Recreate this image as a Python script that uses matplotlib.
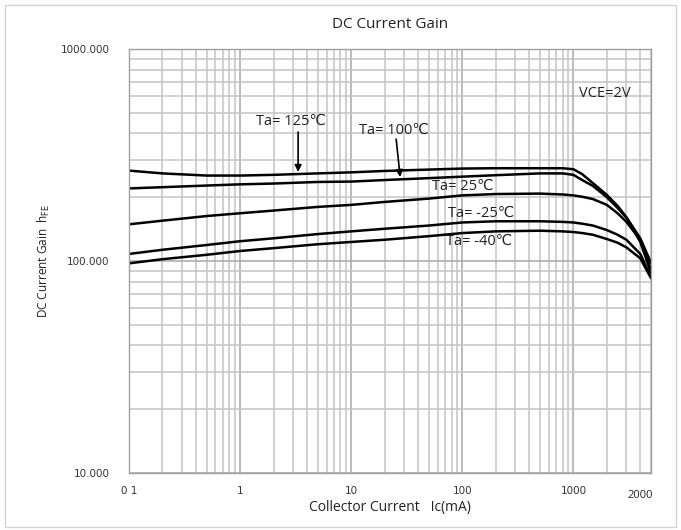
import matplotlib
matplotlib.use("Agg")
import matplotlib.pyplot as plt
from matplotlib.patches import Rectangle
from matplotlib.ticker import FixedLocator, NullFormatter, LogLocator

# ---- data ----
ic_ma = [0.1, 0.2, 0.5, 1, 2, 5, 10, 20, 50, 100, 200, 500, 800, 1000, 1200, 1500, 2000, 2500, 3000, 4000, 5000]
hfe_125 = [267, 259, 253, 253, 255, 259, 262, 266, 270, 273, 274, 274, 274, 271, 257, 233, 205, 182, 161, 128, 98]
hfe_100 = [220, 223, 227, 230, 232, 236, 237, 241, 246, 250, 254, 259, 259, 255, 241, 226, 200, 178, 160, 123, 88]
hfe_25 = [149, 155, 163, 168, 173, 180, 184, 190, 197, 204, 207, 208, 206, 204, 201, 196, 184, 168, 153, 126, 91]
hfe_m25 = [108, 113, 119, 124, 128, 134, 138, 142, 147, 152, 154, 154, 153, 152, 150, 147, 140, 133, 126, 108, 84]
hfe_m40 = [97.5, 102, 107, 111.5, 115, 120, 123, 126, 131, 135.5, 138, 139, 138, 137, 135.5, 133, 127, 122, 116, 103, 83]

x_tick_vals = [0.1, 1, 10, 100, 1000]
x_tick_labels = ["0 1", "1", "10", "100", "1000"]
y_tick_vals = [10, 100, 1000]
y_tick_labels = ["10.000", "100.000", "1000.000"]

font = ["Open Sans", "DejaVu Sans"]
plt.rcParams["font.family"] = font

fig = plt.figure(figsize=(6.81, 5.30), dpi=100)
fig.patch.set_facecolor("white")
fig.patches.append(Rectangle((0.008, 0.006), 0.984, 0.985, transform=fig.transFigure,
                             fill=False, edgecolor="#d4d4d4", linewidth=1.0))

ax = fig.add_axes([0.1894, 0.1075, 0.7666, 0.80])
ax.set_xscale("log")
ax.set_yscale("log")
ax.set_xlim(0.1, 5000)
ax.set_ylim(10, 1000)

ax.xaxis.set_major_locator(FixedLocator(x_tick_vals))
ax.xaxis.set_minor_locator(LogLocator(base=10, subs=range(2, 10), numticks=20))
ax.xaxis.set_minor_formatter(NullFormatter())
ax.set_xticklabels(x_tick_labels, family=["DejaVu Sans"])
ax.yaxis.set_major_locator(FixedLocator(y_tick_vals))
ax.yaxis.set_minor_locator(LogLocator(base=10, subs=range(2, 10), numticks=20))
ax.yaxis.set_minor_formatter(NullFormatter())
ax.set_yticklabels(y_tick_labels, family=["DejaVu Sans"])

ax.grid(True, which="both", color="#c4c4c4", linewidth=1.1)
ax.grid(True, which="major", color="#a8a8a8", linewidth=1.1)
ax.set_axisbelow(True)
ax.tick_params(which="both", length=0)
ax.tick_params(axis="x", pad=9, labelsize=7.5, labelcolor="#333333")
ax.tick_params(axis="y", pad=14, labelsize=7.5, labelcolor="#333333")
for s in ax.spines.values():
    s.set_color("#a0a0a0")
    s.set_linewidth(1.0)

for series in (hfe_125, hfe_100, hfe_25, hfe_m25, hfe_m40):
    ax.plot(ic_ma, series, color="black", linewidth=1.8, solid_capstyle="round",
            solid_joinstyle="round")

# "2000" label near the right end
ax.text(4000, -0.04, "2000", transform=ax.get_xaxis_transform(), ha="center", va="top",
        fontsize=8, color="#222222")

fig.text(0.573, 0.953, "DC Current Gain", ha="center", va="center", fontsize=11, color="#222222")
ax.set_xlabel("Collector Current   Ic(mA)", fontsize=10, color="#222222", labelpad=3)
ax.set_ylabel("DC Current Gain  h$_{\\rm FE}$", fontsize=8.5, color="#222222", labelpad=6)

tk = dict(fontsize=10.5, color="#222222")
arrow = dict(arrowstyle="-|>", color="black", lw=1.2, mutation_scale=10, shrinkA=0, shrinkB=0)
ax.text(2.88, 457, "Ta= 125\u2103", ha="center", va="center", **tk)
ax.annotate("", xy=(3.33, 263), xytext=(3.33, 406), arrowprops=arrow)
ax.text(24.4, 415, "Ta= 100\u2103", ha="center", va="center", **tk)
ax.annotate("", xy=(27.6, 249), xytext=(25.4, 376), arrowprops=arrow)
ax.text(100, 226, "Ta= 25\u2103", ha="center", va="center", **tk)
ax.text(148, 168, "Ta= -25\u2103", ha="center", va="center", **tk)
ax.text(142, 124, "Ta= -40\u2103", ha="center", va="center", **tk)
ax.text(1900, 620, "VCE=2V", ha="center", va="center", **tk)

fig.savefig("out.png", dpi=100, facecolor="white")
